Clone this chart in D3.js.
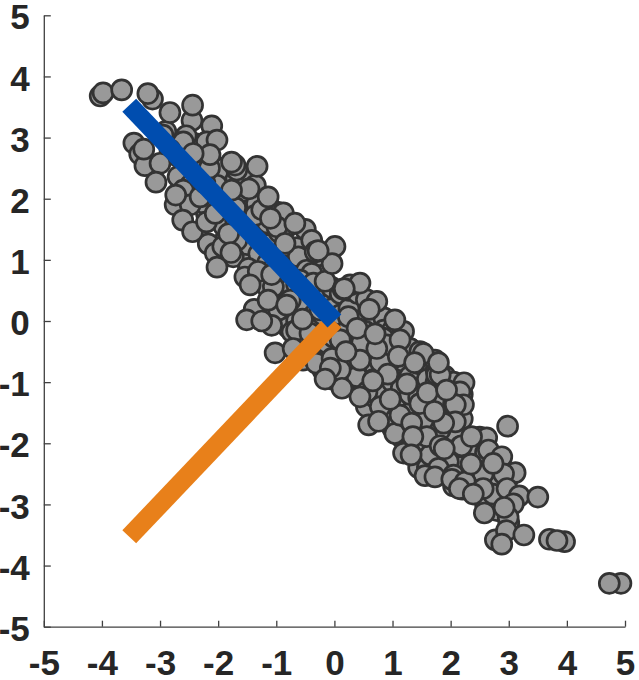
<!DOCTYPE html>
<html>
<head>
<meta charset="utf-8">
<script src="https://d3js.org/d3.v7.min.js"></script>
<style>
html, body { margin: 0; padding: 0; background: #fff; }
svg { display: block; }
.axis text { font-family: "Liberation Sans", Arial, sans-serif; font-weight: 700; font-size: 35px; fill: #262626; }
.axis path, .axis line { stroke: #404040; stroke-width: 1.3; }
</style>
</head>
<body>
<svg id="chart" width="639" height="680"></svg>
<script>
// Tick labels on both axes
const tickValues = [-5, -4, -3, -2, -1, 0, 1, 2, 3, 4, 5];

// Samples hidden deep inside the cloud, painted first
const innerX = [-2.9,-2.7,-2.5,-2.3,-2.0,-1.6,-1.5,-1.9,-1.3,-1.6,-1.0,-0.8,-1.2,-1.0,-0.7,-0.5,-0.9,-0.6,-0.2,-0.1,0.1,0.35,0.5,0.8,-0.3,-0.1,0.2,0.6,0.9,1.1,0.7,1.2,1.0,1.5,1.7,1.9,1.3,1.6,0.85,1.5,1.75,2.0,2.3,2.5,2.4,2.7,2.8,2.5,
  -2.4,-2.4,-2.4,-2.2,-2.2,-2.2,-1.9,-1.9,-1.9,-1.9,-1.7,-1.7,-1.7,-1.7,-1.5,-1.5,-1.5,-1.5,-1.3,-1.3,-1.3,-1.3,-1.15,-1.15,-1.15,-1.15,-0.95,-0.95,-0.95,-0.95,-0.8,-0.8,-0.8,-0.8,-0.65,-0.65,-0.65,-0.65,-0.5,-0.5,-0.5,-0.5,-0.35,-0.35,-0.35,-0.35,-0.2,-0.2,-0.2,-0.2,-0.05,-0.05,-0.05,-0.05,0.1,0.1,0.1,0.1,0.25,0.25,0.25,0.25,0.4,0.4,0.4,0.4,0.4,0.55,0.55,0.55,0.55,0.7,0.7,0.7,0.7,0.85,0.85,0.85,0.85,0.85,1.0,1.0,1.0,1.0,1.0,1.15,1.15,1.15,1.15,1.15,1.3,1.3,1.3,1.3,1.3,1.45,1.45,1.45,1.45,1.45,1.6,1.6,1.6,1.6,1.6,1.75,1.75,1.75,1.75,1.75,1.9,1.9,1.9,1.9,2.05,2.05,2.05,2.05,2.2,2.2,2.2,2.2,2.4,2.4,2.4,2.6,2.6,2.6,2.8,2.8,2.8,3.0,3.0,3.0];
const innerY = [3.1,2.7,2.5,2.4,2.3,2.0,1.8,1.7,1.5,1.2,1.3,1.1,1.1,0.95,0.8,0.5,0.45,0.2,0.4,0.3,0.3,0.3,0.0,0.0,-0.4,-0.55,-0.2,-0.45,-0.6,-0.8,-0.7,-1.2,-1.5,-1.0,-1.2,-1.4,-1.3,-1.45,-1.0,-2.1,-2.2,-2.0,-2.2,-2.3,-2.6,-2.6,-3.0,-1.9,
  2.1,2.9,2.6,2.2,1.75,2.75,1.3,1.95,2.5,1.55,1.65,2.3,1.85,1.1,1.0,1.5,2.35,1.25,0.65,1.1,1.9,1.35,0.95,1.6,0.55,1.25,0.7,1.45,0.35,0.05,0.5,0.9,1.55,-0.1,0.0,0.6,1.2,-0.3,0.9,0.25,-0.4,0.7,0.1,-0.15,0.95,0.45,0.75,-0.55,0.1,-0.8,0.55,-0.1,-0.95,0.2,0.45,0.1,-0.5,-1.0,0.2,-0.1,-0.75,0.5,0.45,0.0,-0.4,-1.05,-0.6,0.35,-0.3,-0.8,-1.4,0.05,-0.4,-1.25,-0.75,0.05,-0.15,-1.15,-1.55,-0.7,-0.15,-0.45,-1.0,-1.75,-0.75,-0.25,-0.65,-1.35,-1.9,-1.1,-0.45,-0.9,-1.5,-2.05,-1.2,-0.7,-1.25,-1.7,-2.0,-2.4,-0.75,-0.95,-1.4,-2.0,-2.4,-0.8,-1.0,-1.6,-2.35,-2.05,-0.9,-1.3,-1.85,-2.5,-1.0,-1.85,-2.2,-2.7,-1.2,-1.6,-2.35,-2.75,-2.05,-2.4,-2.7,-2.15,-2.6,-3.0,-2.3,-2.7,-3.1,-2.55,-2.95,-3.3];

// Samples partly covered by their neighbours
const midX = [-4.03,-3.13,-2.45,-2.11,-2.55,-2.60,-3.45,-3.35,-3.26,-2.95,-2.83,-2.20,-2.69,-2.48,-2.35,-2.26,-2.74,-2.60,-2.48,-2.31,-2.02,-2.23,-1.68,-1.71,-1.36,-1.34,-0.99,-0.88,-0.50,-0.62,-2.17,-2.05,-1.92,-1.74,-1.68,-1.82,-1.48,-1.11,-0.48,-0.39,-0.99,-1.36,-1.25,-0.39,-1.54,-1.05,-0.96,-1.38,-1.08,-0.73,-0.65,-0.59,-0.36,-0.16,-0.25,0.24,-0.13,-0.02,-0.54,-0.33,-0.76,-1.14,0.27,0.44,0.15,0.73,1.19,0.84,0.53,1.30,1.47,0.93,0.32,-0.31,-0.04,1.76,1.73,2.23,2.16,2.22,2.05,1.82,0.50,0.39,0.10,0.79,0.47,0.39,0.90,1.13,0.10,0.44,-0.07,0.56,0.44,0.67,0.59,1.19,1.04,1.65,2.05,1.82,1.53,1.13,1.47,0.79,0.79,1.53,1.10,0.73,2.08,2.16,1.96,1.79,1.56,1.73,2.05,2.19,2.62,2.65,2.88,3.11,2.91,2.56,2.02,2.25,2.15,2.73,2.56,2.97,3.18,3.08,2.99,2.77,3.70,3.96,4.93,1.59,2.08,1.88,1.82];
const midY = [3.68,3.63,3.28,3.19,3.03,2.93,2.91,2.73,2.54,3.04,2.80,2.93,2.36,2.22,2.20,1.93,1.90,2.14,1.90,2.03,2.22,2.26,2.47,2.55,2.22,1.92,1.78,1.77,1.50,1.05,1.26,1.11,1.22,1.05,1.32,1.43,0.86,0.81,0.83,0.78,1.54,1.73,1.82,1.32,0.72,0.56,0.18,0.19,-0.07,-0.18,-0.15,0.67,0.62,0.65,0.18,0.07,-0.36,-0.26,-0.64,-0.64,0.34,0.34,0.59,0.62,0.52,0.32,-0.17,-0.28,-0.17,-0.45,-0.50,-0.69,-0.69,-0.69,-0.61,-0.88,-0.64,-1.01,-1.16,-1.37,-1.36,-0.88,-1.13,-0.91,-0.80,-0.52,-0.36,-0.12,-0.39,-0.31,-0.31,-0.64,-0.77,-1.16,-1.24,-0.96,-1.70,-2.16,-1.84,-2.19,-1.62,-1.78,-1.62,-1.54,-1.35,-1.40,-0.67,-0.53,-0.58,-0.45,-1.37,-2.06,-2.30,-2.41,-2.53,-2.55,-2.52,-2.04,-1.91,-2.11,-2.22,-2.48,-2.50,-2.50,-2.59,-2.63,-2.74,-2.83,-2.74,-2.74,-2.86,-2.99,-3.21,-3.58,-3.57,-3.61,-4.29,-1.89,-1.65,-1.67,-2.04];

// Samples that sit on top of the pile
const topX = [-3.98,-3.66,-3.21,-2.83,-2.44,-2.02,-3.28,-3.00,-3.07,-2.73,-2.61,-2.44,-2.20,-2.05,-2.15,-2.14,-2.43,-1.77,-1.33,-1.47,-1.77,-1.14,-1.10,-0.68,-0.85,-0.33,0.01,-0.04,-0.28,-2.02,-1.78,-1.51,-1.25,-0.82,-1.31,-1.08,-1.45,-1.02,-0.71,-0.42,-0.55,0.17,0.60,0.70,1.04,0.20,0.13,-0.16,0.92,1.38,0.66,1.25,0.96,1.60,1.93,1.79,1.72,0.76,1.33,1.35,1.32,1.89,2.36,2.35,2.73,2.39,2.58,2.92,2.98,3.50,2.96,3.26,2.88,3.83,4.73];
const topY = [3.73,3.78,3.72,3.41,3.53,2.96,2.81,2.58,2.27,2.06,1.65,1.46,1.62,1.76,2.50,2.72,2.74,2.60,2.53,2.16,2.14,2.03,1.68,1.60,1.27,1.13,1.22,0.94,1.15,0.88,1.12,0.02,0.00,0.26,0.81,0.76,0.59,-0.52,-0.45,-0.20,0.03,0.53,0.19,-0.21,0.02,-0.50,-1.10,-0.95,-0.87,-0.68,-0.98,-1.03,-1.28,-1.17,-1.13,-0.68,-1.48,-1.64,-1.67,-1.89,-2.19,-2.09,-1.89,-2.34,-2.33,-2.83,-3.14,-3.05,-1.72,-2.88,-3.43,-3.50,-3.65,-3.59,-4.29];

// Principal directions, from the origin outwards
const blueDir = [[-3.53, 3.53], [0, 0]];
const orangeDir = [[-3.53, -3.53], [0, 0]];

const svg = d3.select("#chart");
const x = d3.scaleLinear().domain([-5, 5]).range([43.8, 625]);
const y = d3.scaleLinear().domain([-5, 5]).range([626.7, 15.3]);

svg.append("g").attr("class", "axis")
  .attr("transform", `translate(0,${y(-5)})`)
  .call(d3.axisBottom(x).tickValues(tickValues).tickFormat(d3.format("d")).tickSizeInner(-6).tickSizeOuter(0).tickPadding(23.5))
  .call(g => g.selectAll("text").text(d => String(d)));

svg.append("g").attr("class", "axis")
  .attr("transform", `translate(${x(-5)},0)`)
  .call(d3.axisLeft(y).tickValues(tickValues).tickFormat(d3.format("d")).tickSizeInner(-7).tickSizeOuter(0).tickPadding(14))
  .call(g => g.selectAll("text").text(d => String(d)).attr("dy", "0.39em"));

const layers = [[innerX, innerY], [midX, midY], [topX, topY]];
layers.forEach(([xs, ys]) => {
  svg.append("g").selectAll("circle")
    .data(xs.map((v, i) => [v, ys[i]]))
    .join("circle")
    .attr("cx", d => x(d[0]))
    .attr("cy", d => y(d[1]))
    .attr("r", 10)
    .attr("fill", "#999999")
    .attr("stroke", "#333333")
    .attr("stroke-width", 2.7);
});

const line = d3.line().x(d => x(d[0])).y(d => y(d[1]));
[[orangeDir, "#E8801A"], [blueDir, "#004DAF"]].forEach(([pts, colour]) => {
  svg.append("path")
    .attr("d", line(pts))
    .attr("fill", "none")
    .attr("stroke", colour)
    .attr("stroke-width", 19);
});
</script>
</body>
</html>
